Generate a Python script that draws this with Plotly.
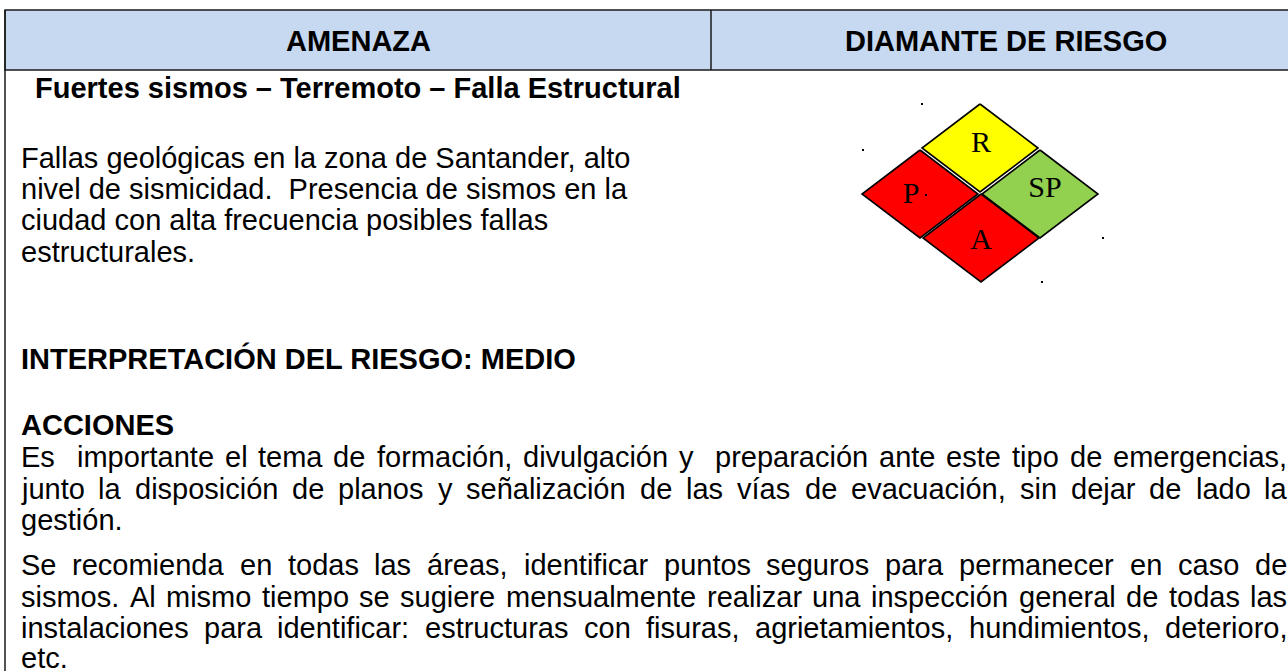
import plotly.graph_objects as go

W, H = 1288, 671

# ---------------- content ----------------
header_labels = ["AMENAZA", "DIAMANTE DE RIESGO"]
header_centers = [358, 1006]

title_line = "Fuertes sismos – Terremoto – Falla Estructural"

desc_lines = [
    "Fallas geológicas en la zona de Santander, alto",
    "nivel de sismicidad.  Presencia de sismos en la",
    "ciudad con alta frecuencia posibles fallas",
    "estructurales.",
]
desc_y = [158, 189, 220, 252]

interp_text = "INTERPRETACIÓN DEL RIESGO: MEDIO"
acciones_title = "ACCIONES"

acc_lines = [
    "Es  importante el tema de formación, divulgación y  preparación ante este tipo de emergencias,",
    "junto la disposición de planos y señalización de las vías de evacuación, sin dejar de lado la",
    "gestión.",
    "Se recomienda en todas las áreas, identificar puntos seguros para permanecer en caso de",
    "sismos. Al mismo tiempo se sugiere mensualmente realizar una inspección general de todas las",
    "instalaciones para identificar: estructuras con fisuras, agrietamientos, hundimientos, deterioro,",
    "etc.",
]
acc_y = [457, 489, 520, 565, 597, 628, 658]
acc_justified = [True, True, False, True, True, True, False]

# risk diamond cells
diamond_labels = ["R", "SP", "P", "A"]
diamond_colors = ["#FFFF00", "#92D050", "#FF0000", "#FF0000"]
diamond_cx = [980, 1040, 920, 981]
diamond_cy = [148, 194, 194, 238]
label_x = [981, 1045, 911, 981]
label_y = [144, 189, 195, 241]
stray_dot_x = [922, 863, 1103, 1042, 926]
stray_dot_y = [104, 150, 238, 282, 195]

# ---------------- styling helpers ----------------
SANS = "Liberation Sans, Arial, sans-serif"
SERIF = "Liberation Serif, Times New Roman, serif"
FS = 29
LEFT = 21
RIGHT = 1287

AW = {' ': 278, ',': 278, '.': 278, ':': 278, ';': 278,
      'a': 556, 'b': 556, 'c': 500, 'd': 556, 'e': 556, 'f': 278, 'g': 556,
      'h': 556, 'i': 222, 'j': 222, 'k': 500, 'l': 222, 'm': 833, 'n': 556,
      'o': 556, 'p': 556, 'q': 556, 'r': 333, 's': 500, 't': 278, 'u': 556,
      'v': 500, 'w': 722, 'x': 500, 'y': 500, 'z': 500,
      'á': 556, 'é': 556, 'í': 278, 'ó': 556, 'ú': 556, 'ñ': 556,
      'A': 667, 'E': 667, 'S': 667, 'I': 278, 'P': 667}


def text_w(s, size):
    return sum(AW.get(ch, 556) for ch in s) * size / 1000.0


fig = go.Figure()

# header band and borders
fig.add_shape(type="rect", x0=5, x1=1310, y0=10, y1=70,
              fillcolor="#C6D9F1", line=dict(color="#1a1a1a", width=1.5), layer="below")
fig.add_shape(type="line", x0=711, x1=711, y0=10, y1=70, line=dict(color="#1a1a1a", width=1.5))
fig.add_shape(type="line", x0=5, x1=5, y0=10, y1=700, line=dict(color="#1a1a1a", width=1.5))

ann = []
for lab, cx in zip(header_labels, header_centers):
    ann.append(dict(x=cx, y=41, text="<b>%s</b>" % lab, xanchor="center", yanchor="middle",
                    font=dict(family=SANS, size=FS, color="black")))

ann.append(dict(x=35, y=88, text="<b>%s</b>" % title_line, xanchor="left", yanchor="middle",
                font=dict(family=SANS, size=FS, color="black")))

for t, y in zip(desc_lines, desc_y):
    ann.append(dict(x=LEFT, y=y, text=t.replace("  ", "&nbsp; "), xanchor="left", yanchor="middle",
                    font=dict(family=SANS, size=FS, color="black")))

ann.append(dict(x=LEFT, y=358, text="<b>%s</b>" % interp_text, xanchor="left", yanchor="middle",
                font=dict(family=SANS, size=FS, color="black")))
ann.append(dict(x=LEFT, y=425, text="<b>%s</b>" % acciones_title, xanchor="left", yanchor="middle",
                font=dict(family=SANS, size=FS, color="black")))

for t, y, j in zip(acc_lines, acc_y, acc_justified):
    if not j:
        ann.append(dict(x=LEFT, y=y, text=t, xanchor="left", yanchor="middle",
                        font=dict(family=SANS, size=FS, color="black")))
        continue
    words = t.split(" ")
    widths = [text_w(w, FS) for w in words]
    gap = (RIGHT - LEFT - sum(widths)) / (len(words) - 1)
    x = LEFT
    for w, ww in zip(words, widths):
        if w:
            ann.append(dict(x=x, y=y, text=w, xanchor="left", yanchor="middle",
                            font=dict(family=SANS, size=FS, color="black")))
        x += ww + gap

for a in ann:
    a.update(showarrow=False, xref="x", yref="y", borderpad=0, borderwidth=0)

# diamond cells
HW, HH = 58, 44
for lab, col, cx, cy in zip(diamond_labels, diamond_colors, diamond_cx, diamond_cy):
    fig.add_trace(go.Scatter(
        x=[cx, cx + HW, cx, cx - HW, cx], y=[cy - HH, cy, cy + HH, cy, cy - HH],
        mode="lines", fill="toself", fillcolor=col,
        line=dict(color="black", width=1.6), hoverinfo="skip", showlegend=False))

fig.add_trace(go.Scatter(x=label_x, y=label_y, mode="text", text=diamond_labels,
                         textfont=dict(family=SERIF, size=30, color="black"),
                         hoverinfo="skip", showlegend=False))
fig.add_trace(go.Scatter(x=stray_dot_x, y=stray_dot_y, mode="markers",
                         marker=dict(symbol="square", size=2, color="black", line=dict(width=0)),
                         hoverinfo="skip", showlegend=False))

fig.update_layout(
    width=W, height=H, margin=dict(l=0, r=0, t=0, b=0),
    paper_bgcolor="white", plot_bgcolor="white",
    xaxis=dict(range=[0, W], visible=False, fixedrange=True),
    yaxis=dict(range=[H, 0], visible=False, fixedrange=True),
    annotations=ann, showlegend=False,
)

fig.write_html("out.html", config={"displayModeBar": False},
               post_script="document.body.style.margin='0';document.body.style.overflow='hidden';")
